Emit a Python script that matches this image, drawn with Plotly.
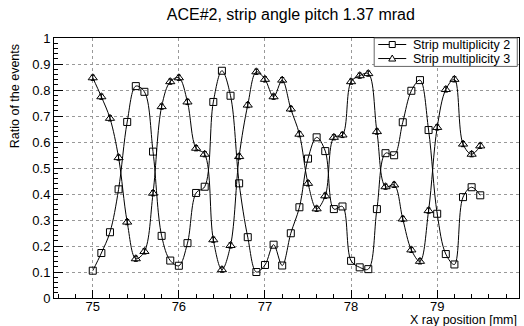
import plotly.graph_objects as go

x_pos = [round(75.0 + 0.1 * i, 1) for i in range(46)]

mult2 = [0.105, 0.173, 0.253, 0.418, 0.677, 0.815, 0.793, 0.563, 0.239, 0.144,
         0.124, 0.211, 0.404, 0.428, 0.754, 0.874, 0.778, 0.441, 0.234, 0.100,
         0.127, 0.205, 0.125, 0.249, 0.349, 0.536, 0.618, 0.565, 0.342, 0.352,
         0.143, 0.118, 0.111, 0.342, 0.557, 0.549, 0.676, 0.797, 0.838, 0.646,
         0.324, 0.169, 0.129, 0.388, 0.426, 0.395]

mult3 = [0.847, 0.774, 0.691, 0.540, 0.292, 0.151, 0.179, 0.403, 0.736, 0.832,
         0.847, 0.754, 0.576, 0.553, 0.224, 0.109, 0.202, 0.544, 0.742, 0.870,
         0.841, 0.774, 0.838, 0.727, 0.630, 0.441, 0.343, 0.393, 0.618, 0.627,
         0.832, 0.855, 0.863, 0.640, 0.428, 0.435, 0.304, 0.185, 0.141, 0.336,
         0.656, 0.802, 0.841, 0.592, 0.553, 0.585]

series_names = ["Strip multiplicity 2", "Strip multiplicity 3"]
err3 = 0.01

FONT = "Liberation Sans, Arial, sans-serif"

fig = go.Figure()
fig.add_trace(go.Scatter(
    x=x_pos, y=mult2, mode="lines+markers", name=series_names[0],
    line=dict(color="black", width=1, shape="spline", smoothing=1),
    marker=dict(symbol="square-open", size=7, color="black", line=dict(width=1)),
    showlegend=False,
))
fig.add_trace(go.Scatter(
    x=x_pos, y=mult3, mode="lines+markers", name=series_names[1],
    line=dict(color="black", width=1, shape="spline", smoothing=1),
    marker=dict(symbol="triangle-up-open", size=8, color="black", line=dict(width=1)),
    error_y=dict(type="constant", value=err3, color="black", thickness=1, width=2),
    showlegend=False,
))

fig.update_layout(
    width=524, height=326,
    margin=dict(l=54, r=5, t=38, b=28),
    paper_bgcolor="white", plot_bgcolor="white",
    font=dict(family=FONT, size=13, color="black"),
    title=dict(text="ACE#2, strip angle pitch 1.37 mrad", x=0.555, xanchor="center",
               y=0.957, yanchor="middle", font=dict(size=16, family=FONT)),
    showlegend=False,
)

fig.update_xaxes(
    range=[74.55, 79.95], dtick=1, tick0=75,
    showline=True, linecolor="black", linewidth=1, mirror=True,
    ticks="inside", ticklen=8, tickcolor="black",
    showgrid=True, gridcolor="#999999", griddash="dot", gridwidth=1,
    zeroline=False, ticklabelstandoff=-4,
    minor=dict(dtick=0.2, tick0=75, ticks="inside", ticklen=4, tickcolor="black", showgrid=False),
    tickfont=dict(size=13),
)
fig.update_yaxes(
    range=[0, 1], dtick=0.1, tick0=0,
    showline=True, linecolor="black", linewidth=1, mirror=True,
    ticks="inside", ticklen=9, tickcolor="black",
    showgrid=True, gridcolor="#999999", griddash="dot", gridwidth=1,
    zeroline=False,
    minor=dict(dtick=0.02, tick0=0, ticks="inside", ticklen=4, tickcolor="black", showgrid=False),
    tickfont=dict(size=13),
)

# Legend box (ROOT TLegend style)
lg_x0, lg_x1 = 0.6886, 0.9963
lg_y0, lg_y1 = 0.8907, 1.0
fig.add_shape(type="rect", xref="paper", yref="paper",
              x0=lg_x0, x1=lg_x1, y0=lg_y0, y1=lg_y1,
              line=dict(color="#666666", width=1), fillcolor="white", layer="above")
entry_y = [0.975, 0.921]
sym_x = 0.7274
for i, name in enumerate(series_names):
    yy = entry_y[i]
    fig.add_shape(type="line", xref="paper", yref="paper", xsizemode="pixel",
                  xanchor=sym_x, x0=-14, x1=14, y0=yy, y1=yy,
                  line=dict(color="black", width=1), layer="above")
    if i == 0:
        fig.add_shape(type="rect", xref="paper", yref="paper",
                      xsizemode="pixel", ysizemode="pixel", xanchor=sym_x, yanchor=yy,
                      x0=-3, x1=3, y0=-3, y1=3,
                      line=dict(color="black", width=1), fillcolor="white", layer="above")
    else:
        fig.add_shape(type="path", xref="paper", yref="paper",
                      xsizemode="pixel", ysizemode="pixel", xanchor=sym_x, yanchor=yy,
                      path="M -3.5,-2.5 L 3.5,-2.5 L 0,3.5 Z",
                      line=dict(color="black", width=1), fillcolor="white", layer="above")
    fig.add_annotation(text=name, xref="paper", yref="paper", x=0.768, y=yy,
                       xanchor="left", yanchor="middle", showarrow=False,
                       font=dict(size=12.5, family=FONT))

fig.add_annotation(text="Ratio of the events", textangle=-90,
                   xref="paper", yref="paper", x=-0.084, y=0.776,
                   xanchor="center", yanchor="middle", showarrow=False,
                   font=dict(size=12.5, family=FONT))
fig.add_annotation(text="X ray position [mm]",
                   xref="paper", yref="paper", x=1.0, y=-0.083,
                   xanchor="right", yanchor="middle", showarrow=False,
                   font=dict(size=12.5, family=FONT))

fig.write_html("out.html")
